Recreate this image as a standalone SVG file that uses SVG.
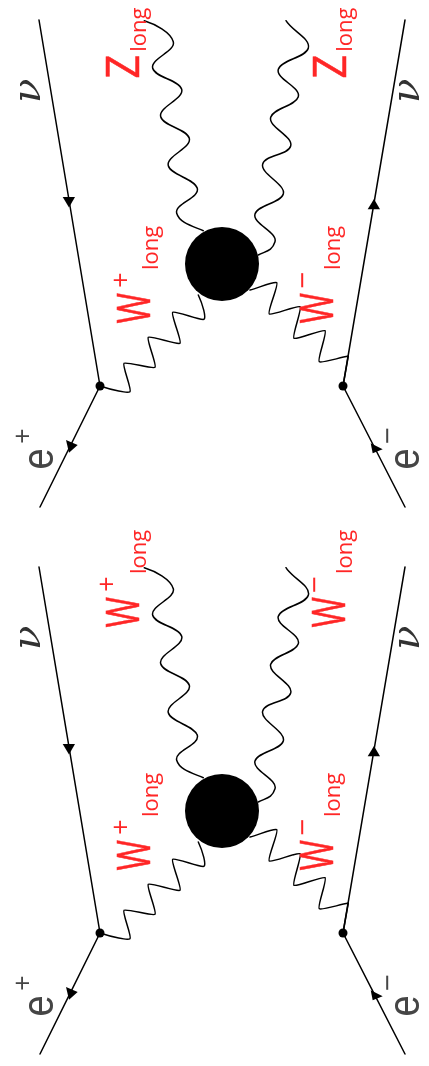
<svg xmlns="http://www.w3.org/2000/svg" width="429" height="1066" viewBox="0 0 429 1066">
<style>
.f{fill:none;stroke:#000;stroke-width:1.5;stroke-linecap:round;stroke-linejoin:round}
.a{fill:#000;stroke:none}
text{font-family:"Open Sans","Liberation Sans",sans-serif}
.r{fill:#ff2626}
.k{fill:#444}
.nu{font-family:"DejaVu Serif",serif;font-style:italic;font-size:40px;fill:#333}
.big{font-size:46px;stroke:#ff2626;stroke-width:.5}
.sub{font-size:22px}
.sup{font-size:27px;text-anchor:middle}
.min{font-size:30px;text-anchor:middle}
.e{font-family:"Liberation Sans",sans-serif;font-size:45px}
</style>
<defs><filter id="soft" x="-5%" y="-5%" width="110%" height="110%"><feGaussianBlur stdDeviation="0.45"/></filter></defs>
<rect width="429" height="1066" fill="#fff"/>
<g filter="url(#soft)">
<g id="connectors">
<g id="connectors-top">
<path class="f" d="M39,20L100,386L40,507"/>
<path class="f" d="M405,20L343,386L405,507"/>
<path class="f" d="M144.3,20.7C155,24 170.6,32.1 173.3,41.7S150,58.7 152.7,68.3S179,79.7 181.7,89.3S158,107.1 160.7,116.7S186.6,128.7 189.3,138.3S165.6,156.1 168.3,165.7S194.6,178.7 197.3,188.3S174,203.7 176.7,213.3S192,226 203.3,230.7"/>
<path class="f" d="M286,20.7C292,31 311.2,38.8 308.3,48.3S281.2,59.8 278.3,69.3S301.2,87.2 298.3,96.7S273.6,107.8 270.7,117.3S293.6,136.5 290.7,146S265.6,154.5 262.7,164S286.2,184.5 283.3,194S257.9,204.5 255,214S277.9,232.2 275,241.7S266,251 258.3,255"/>
<path class="f" d="M100,386C112,390 127.8,393.7 130,391.7S121.8,365.3 124,363.3S152.8,369.3 155,367.3S146.1,339.3 148.3,337.3S177.8,345.3 180,343.3S170.5,314.3 172.7,312.3S201.8,321.3 204,319.3S203,305 198.3,295"/>
<path class="f" d="M343,386L348.3,356C338,358 321.8,363.4 319.3,361.7S327.5,332.4 325,330.7S296.5,340 294,338.3S302.5,308.4 300,306.7S271.8,315.7 269.3,314S279.2,284.4 276.7,282.7S258,288 250,290"/>
<path class="a" d="M62.7,197L75,197L69,207.5Z"/>
<path class="a" d="M374,199L367.7,209.3L380,209.3Z"/>
<path class="a" d="M66,440L77.7,445L69,452.7Z"/>
<path class="a" d="M370.7,443.3L382.7,449.3L372.7,453.3Z"/>
</g>
<g id="connectors-bottom" transform="translate(0,547)">
<path class="f" d="M39,20L100,386L40,507"/>
<path class="f" d="M405,20L343,386L405,507"/>
<path class="f" d="M144.3,20.7C155,24 170.6,32.1 173.3,41.7S150,58.7 152.7,68.3S179,79.7 181.7,89.3S158,107.1 160.7,116.7S186.6,128.7 189.3,138.3S165.6,156.1 168.3,165.7S194.6,178.7 197.3,188.3S174,203.7 176.7,213.3S192,226 203.3,230.7"/>
<path class="f" d="M286,20.7C292,31 311.2,38.8 308.3,48.3S281.2,59.8 278.3,69.3S301.2,87.2 298.3,96.7S273.6,107.8 270.7,117.3S293.6,136.5 290.7,146S265.6,154.5 262.7,164S286.2,184.5 283.3,194S257.9,204.5 255,214S277.9,232.2 275,241.7S266,251 258.3,255"/>
<path class="f" d="M100,386C112,390 127.8,393.7 130,391.7S121.8,365.3 124,363.3S152.8,369.3 155,367.3S146.1,339.3 148.3,337.3S177.8,345.3 180,343.3S170.5,314.3 172.7,312.3S201.8,321.3 204,319.3S203,305 198.3,295"/>
<path class="f" d="M343,386L348.3,356C338,358 321.8,363.4 319.3,361.7S327.5,332.4 325,330.7S296.5,340 294,338.3S302.5,308.4 300,306.7S271.8,315.7 269.3,314S279.2,284.4 276.7,282.7S258,288 250,290"/>
<path class="a" d="M62.7,197L75,197L69,207.5Z"/>
<path class="a" d="M374,199L367.7,209.3L380,209.3Z"/>
<path class="a" d="M66,440L77.7,445L69,452.7Z"/>
<path class="a" d="M370.7,443.3L382.7,449.3L372.7,453.3Z"/>
</g>
</g>
<g id="blob-top"><circle cx="222" cy="264" r="37"/></g>
<g id="vertex-top-left"><circle cx="100" cy="386" r="4.5"/></g>
<g id="vertex-top-right"><circle cx="343" cy="386" r="4.5"/></g>
<g id="blob-bottom"><circle cx="222" cy="811" r="37"/></g>
<g id="vertex-bottom-left"><circle cx="100" cy="933" r="4.5"/></g>
<g id="vertex-bottom-right"><circle cx="343" cy="933" r="4.5"/></g>
<g id="labels-top">
<text class="nu" transform="translate(40,103) rotate(-90)">ν</text>
<text class="nu" transform="translate(419,103) rotate(-90)">ν</text>
<text class="r big" transform="translate(138.5,78.5) rotate(-90) scale(.9,1)">Z</text>
<text class="r sub" transform="translate(145.7,51.7) rotate(-90)">long</text>
<text class="r big" transform="translate(345.7,78.5) rotate(-90) scale(.9,1)">Z</text>
<text class="r sub" transform="translate(352.3,51.7) rotate(-90)">long</text>
<text class="r big" transform="translate(150,323.5) rotate(-90) scale(.72,1)">W</text>
<text class="r sup" transform="translate(129.7,280) rotate(-90)">+</text>
<text class="r sub" transform="translate(157.7,270) rotate(-90)">long</text>
<text class="r big" transform="translate(333.3,323.5) rotate(-90) scale(.72,1)">W</text>
<text class="r min" transform="translate(313,280.5) rotate(-90)">−</text>
<text class="r sub" transform="translate(340,270) rotate(-90)">long</text>
<text class="k e" transform="translate(53,469.5) rotate(-90) scale(.85,1)">e</text>
<text class="k sup" transform="translate(31.7,436) rotate(-90)">+</text>
<text class="k e" transform="translate(419,469.5) rotate(-90) scale(.85,1)">e</text>
<text class="k min" transform="translate(397.5,436) rotate(-90)">−</text>
</g>
<g id="labels-bottom">
<text class="nu" transform="translate(40,650) rotate(-90)">ν</text>
<text class="nu" transform="translate(419,650) rotate(-90)">ν</text>
<text class="r big" transform="translate(138.5,627.5) rotate(-90) scale(.72,1)">W</text>
<text class="r sup" transform="translate(116.4,584) rotate(-90)">+</text>
<text class="r sub" transform="translate(145.7,574) rotate(-90)">long</text>
<text class="r big" transform="translate(345.3,627.5) rotate(-90) scale(.72,1)">W</text>
<text class="r min" transform="translate(325,585) rotate(-90)">−</text>
<text class="r sub" transform="translate(352.3,574) rotate(-90)">long</text>
<text class="r big" transform="translate(150,870.5) rotate(-90) scale(.72,1)">W</text>
<text class="r sup" transform="translate(129.7,827) rotate(-90)">+</text>
<text class="r sub" transform="translate(157.7,817) rotate(-90)">long</text>
<text class="r big" transform="translate(333.3,870.5) rotate(-90) scale(.72,1)">W</text>
<text class="r min" transform="translate(313,827.5) rotate(-90)">−</text>
<text class="r sub" transform="translate(340,817) rotate(-90)">long</text>
<text class="k e" transform="translate(53,1016.5) rotate(-90) scale(.85,1)">e</text>
<text class="k sup" transform="translate(31.7,983) rotate(-90)">+</text>
<text class="k e" transform="translate(419,1016.5) rotate(-90) scale(.85,1)">e</text>
<text class="k min" transform="translate(397.5,983) rotate(-90)">−</text>
</g>
</g>
</svg>
